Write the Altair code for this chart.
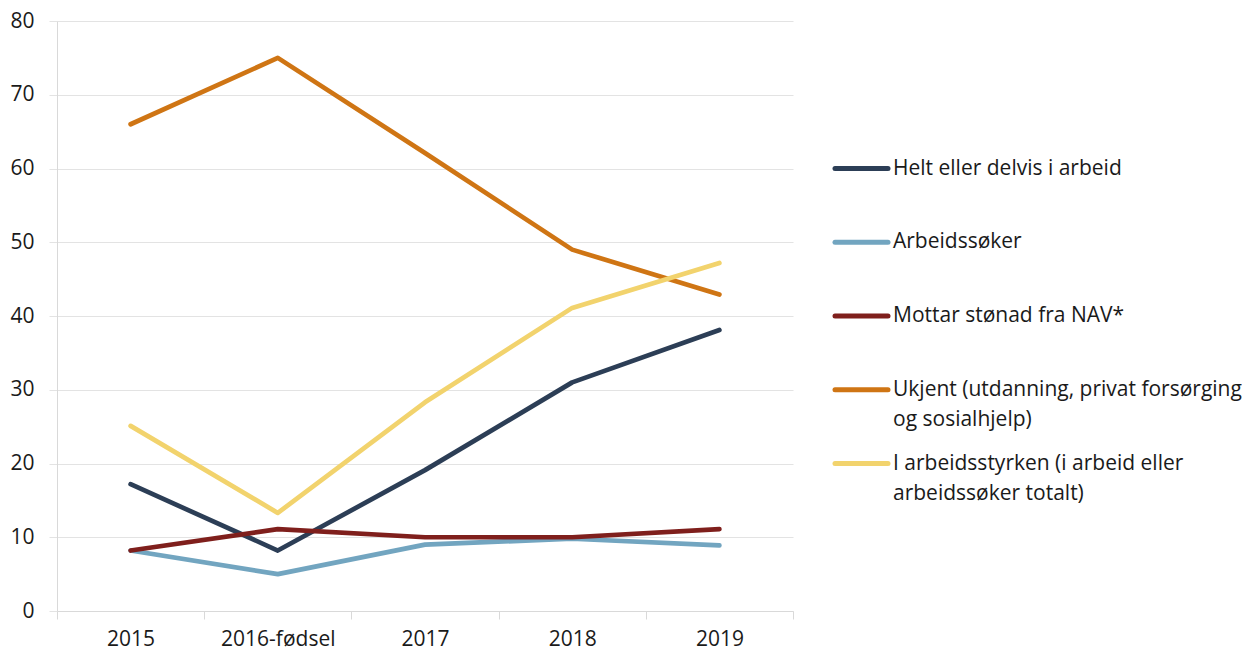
import altair as alt
import pandas as pd

categories = ["2015", "2016-fødsel", "2017", "2018", "2019"]
series = [
    "Helt eller delvis i arbeid",
    "Arbeidssøker",
    "Mottar stønad fra NAV*",
    "Ukjent (utdanning, privat forsørging og sosialhjelp)",
    "I arbeidsstyrken (i arbeid eller arbeidssøker totalt)",
]
helt = [17.2, 8.2, 19.1, 31.0, 38.1]
arbeidssoker = [8.2, 5.0, 9.0, 9.8, 8.9]
mottar = [8.2, 11.1, 10.0, 10.0, 11.1]
ukjent = [66.0, 75.0, 62.1, 49.0, 42.9]
styrken = [25.1, 13.3, 28.3, 41.1, 47.2]
colors = ["#2c3e56", "#72a5c0", "#7f1f1c", "#cf7514", "#f2d36d"]
legend_line1 = [
    "Helt eller delvis i arbeid",
    "Arbeidssøker",
    "Mottar stønad fra NAV*",
    "Ukjent (utdanning, privat forsørging",
    "I arbeidsstyrken (i arbeid eller",
]
legend_line2 = ["", "", "", "og sosialhjelp)", "arbeidssøker totalt)"]

values = [helt, arbeidssoker, mottar, ukjent, styrken]
rows = []
for s, vals in zip(series, values):
    for c, v in zip(categories, vals):
        rows.append({"kategori": c, "serie": s, "verdi": v})
df = pd.DataFrame(rows)

leg = pd.DataFrame({"serie": series, "l1": legend_line1, "l2": legend_line2,
                    "rad": list(range(len(series)))})

FONT = "Open Sans"
FS = 21
TXT = "#1a1a1a"
color_scale = alt.Scale(domain=series, range=colors)

main = alt.Chart(df).mark_line(strokeWidth=4.7, strokeCap="round", strokeJoin="round").encode(
    x=alt.X("kategori:N", sort=categories, bandPosition=0.5,
            scale=alt.Scale(type="band", paddingInner=0, paddingOuter=0),
            axis=alt.Axis(title=None, labelAngle=0, tickBand="extent", grid=False,
                          domainColor="#d9d9d9", tickColor="#d9d9d9", tickSize=8,
                          labelFontSize=FS, labelFont=FONT, labelColor=TXT,
                          labelPadding=9)),
    y=alt.Y("verdi:Q", scale=alt.Scale(domain=[0, 80], nice=False),
            axis=alt.Axis(title=None, values=list(range(0, 81, 10)), grid=True,
                          gridColor="#e3e3e3", domainColor="#d9d9d9", tickColor="#e3e3e3",
                          tickSize=8, labelPadding=15, labelFontSize=FS, labelFont=FONT,
                          labelColor=TXT)),
    color=alt.Color("serie:N", scale=color_scale, legend=None),
    order=alt.Order("serie:N"),
).properties(width=736, height=590)

ypos = alt.Y("rad:Q", scale=alt.Scale(domain=[-2, 6], reverse=True, nice=False), axis=None)

leg_rule = alt.Chart(leg).mark_rule(strokeWidth=5, strokeCap="round").encode(
    x=alt.value(2), x2=alt.value(55), y=ypos,
    color=alt.Color("serie:N", scale=color_scale, legend=None),
)
leg_text1 = alt.Chart(leg).mark_text(align="left", baseline="middle", fontSize=FS,
                                     font=FONT, color=TXT).encode(
    x=alt.value(60), y=ypos, text="l1:N")
leg_text2 = alt.Chart(leg).mark_text(align="left", baseline="middle", fontSize=FS,
                                     font=FONT, color=TXT, dy=30).encode(
    x=alt.value(60), y=ypos, text="l2:N")

legend_panel = alt.layer(leg_rule, leg_text1, leg_text2).properties(width=400, height=590)

chart = alt.hconcat(main, legend_panel, spacing=38).configure_view(strokeWidth=0).properties(
    padding={"left": 1, "top": 2, "right": 0, "bottom": 0}
)

chart.save("out.html", embed_options={"renderer": "svg", "actions": False})
